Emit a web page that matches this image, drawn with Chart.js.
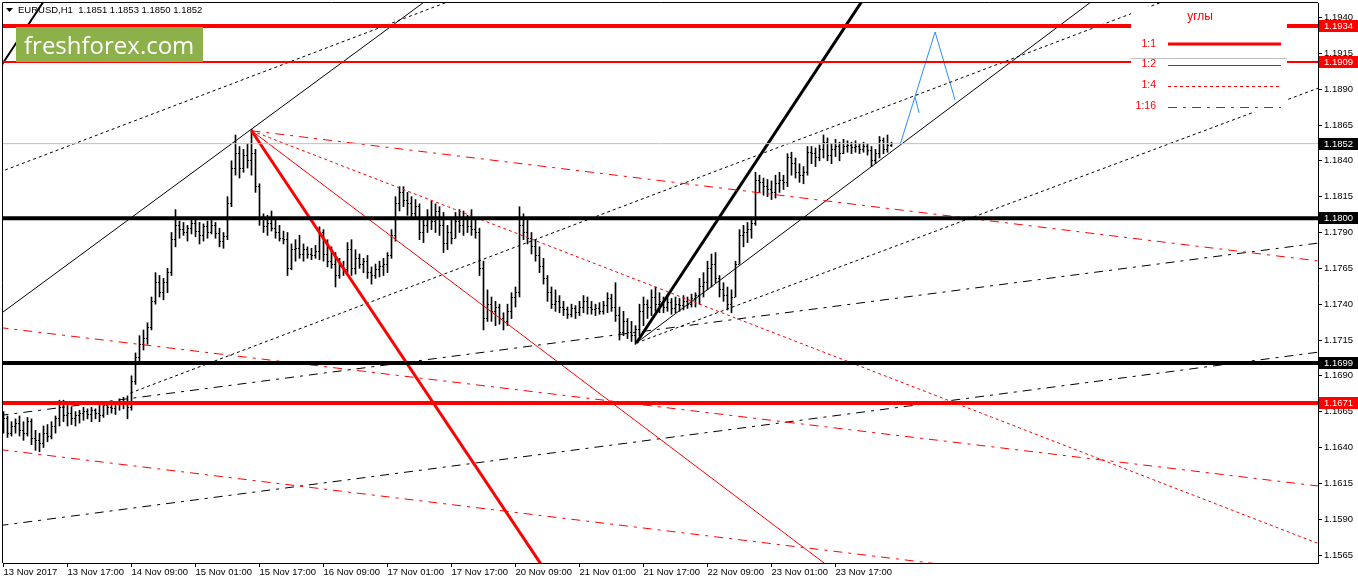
<!DOCTYPE html>
<html>
<head>
<meta charset="utf-8">
<title>EURUSD,H1</title>
<script src="https://cdn.jsdelivr.net/npm/chart.js@4.4.1/dist/chart.umd.min.js"></script>
<style>
  html, body { margin: 0; padding: 0; background: #fff; }
  #wrap { width: 1358px; height: 584px; }
</style>
</head>
<body>
<div id="wrap"><canvas id="chart1" width="1358" height="584"></canvas></div>
<script>
// H1 bars, index 0 = 13 Nov 2017 01:00
const opens = [
  1.1658,1.1660,1.1650,1.1655,1.1657,1.1652,1.1650,1.1658,1.1646,1.1645,
  1.1643,1.1650,1.1648,1.1655,1.1660,1.1668,1.1662,1.1664,1.1660,1.1662,
  1.1664,1.1665,1.1663,1.1666,1.1664,1.1662,1.1669,1.1668,1.1667,1.1670,
  1.1672,1.1670,1.1668,1.1686,1.1703,1.1712,1.1716,1.1724,1.1742,1.1755,
  1.1748,1.1755,1.1762,1.1785,1.1795,1.1792,1.1790,1.1793,1.1796,1.1791,
  1.1788,1.1794,1.1790,1.1795,1.1789,1.1784,1.1787,1.1810,1.1835,1.1845,
  1.1835,1.1844,1.1840,1.1845,1.1822,1.1800,1.1794,1.1796,1.1793,1.1790,
  1.1786,1.1785,1.1765,1.1778,1.1779,1.1775,1.1778,1.1775,1.1774,1.1777,
  1.1790,1.1775,1.1770,1.1768,1.1760,1.1766,1.1764,1.1778,1.1765,1.1772,
  1.1768,1.1770,1.1762,1.1760,1.1764,1.1766,1.1768,1.1774,1.1788,1.1810,
  1.1818,1.1812,1.1810,1.1803,1.1808,1.1790,1.1795,1.1800,1.1798,1.1805,
  1.1795,1.1782,1.1790,1.1786,1.1798,1.1795,1.1800,1.1794,1.1792,1.1790,
  1.1765,1.1730,1.1740,1.1735,1.1738,1.1730,1.1728,1.1735,1.1745,1.1748,
  1.1795,1.1790,1.1786,1.1780,1.1774,1.1766,1.1758,1.1748,1.1740,1.1742,
  1.1738,1.1736,1.1733,1.1737,1.1734,1.1738,1.1742,1.1738,1.1736,1.1737,
  1.1735,1.1739,1.1744,1.1738,1.1732,1.1720,1.1728,1.1720,1.1718,1.1722,
  1.1735,1.1740,1.1738,1.1745,1.1740,1.1742,1.1738,1.1741,1.1737,1.1740,
  1.1739,1.1742,1.1740,1.1744,1.1746,1.1752,1.1755,1.1765,1.1768,1.1758,
  1.1750,1.1746,1.1740,1.1745,1.1768,1.1788,1.1790,1.1792,1.1796,1.1826,
  1.1825,1.1822,1.1820,1.1818,1.1824,1.1826,1.1825,1.1842,1.1838,1.1832,
  1.1830,1.1832,1.1846,1.1845,1.1842,1.1848,1.1853,1.1844,1.1848,1.1850,
  1.1845,1.1850,1.1851,1.1849,1.1850,1.1848,1.1850,1.1847,1.1840,1.1845,
  1.1854,1.1848,1.1851
];
const highs = [
  1.1665,1.1662,1.1658,1.1660,1.1662,1.1658,1.1661,1.1660,1.1652,1.1650,
  1.1655,1.1656,1.1658,1.1662,1.1673,1.1673,1.1670,1.1668,1.1665,1.1666,
  1.1668,1.1667,1.1668,1.1667,1.1670,1.1672,1.1671,1.1670,1.1672,1.1674,
  1.1675,1.1676,1.1690,1.1706,1.1718,1.1722,1.1727,1.1745,1.1762,1.1760,
  1.1758,1.1765,1.1790,1.1806,1.1798,1.1797,1.1795,1.1800,1.1799,1.1797,
  1.1796,1.1798,1.1799,1.1797,1.1793,1.1790,1.1815,1.1840,1.1858,1.1850,
  1.1848,1.1852,1.1862,1.1848,1.1824,1.1803,1.1802,1.1805,1.1800,1.1795,
  1.1791,1.1790,1.1782,1.1785,1.1788,1.1782,1.1780,1.1779,1.1781,1.1794,
  1.1792,1.1785,1.1780,1.1776,1.1772,1.1770,1.1783,1.1785,1.1778,1.1775,
  1.1772,1.1774,1.1766,1.1768,1.1770,1.1772,1.1776,1.1792,1.1815,1.1822,
  1.1822,1.1818,1.1815,1.1813,1.1810,1.1800,1.1806,1.1812,1.1810,1.1808,
  1.1804,1.1795,1.1800,1.1804,1.1806,1.1805,1.1802,1.1806,1.1800,1.1793,
  1.1770,1.1750,1.1745,1.1742,1.1740,1.1734,1.1740,1.1748,1.1752,1.1808,
  1.1803,1.1800,1.1790,1.1785,1.1780,1.1772,1.1760,1.1752,1.1750,1.1746,
  1.1742,1.1738,1.1740,1.1739,1.1742,1.1746,1.1745,1.1742,1.1740,1.1741,
  1.1742,1.1748,1.1747,1.1755,1.1738,1.1735,1.1730,1.1728,1.1725,1.1740,
  1.1745,1.1743,1.1750,1.1752,1.1748,1.1745,1.1746,1.1744,1.1745,1.1744,
  1.1746,1.1745,1.1747,1.1748,1.1758,1.1762,1.1770,1.1775,1.1776,1.1760,
  1.1755,1.1752,1.1750,1.1770,1.1792,1.1795,1.1797,1.1800,1.1832,1.1830,
  1.1828,1.1827,1.1826,1.1830,1.1832,1.1830,1.1845,1.1846,1.1842,1.1838,
  1.1836,1.1850,1.1850,1.1849,1.1851,1.1858,1.1856,1.1852,1.1855,1.1853,
  1.1855,1.1854,1.1853,1.1854,1.1852,1.1853,1.1852,1.1850,1.1848,1.1857,
  1.1856,1.1858,1.1853
];
const lows = [
  1.1650,1.1647,1.1648,1.1650,1.1648,1.1645,1.1648,1.1642,1.1638,1.1637,
  1.1640,1.1644,1.1646,1.1650,1.1655,1.1658,1.1655,1.1656,1.1655,1.1657,
  1.1659,1.1660,1.1658,1.1660,1.1658,1.1661,1.1663,1.1664,1.1663,1.1666,
  1.1667,1.1660,1.1666,1.1684,1.1700,1.1708,1.1712,1.1722,1.1740,1.1745,
  1.1743,1.1748,1.1760,1.1780,1.1786,1.1788,1.1784,1.1789,1.1787,1.1782,
  1.1784,1.1786,1.1789,1.1786,1.1780,1.1779,1.1785,1.1808,1.1830,1.1828,
  1.1832,1.1835,1.1830,1.1818,1.1795,1.1790,1.1788,1.1791,1.1786,1.1784,
  1.1782,1.1760,1.1764,1.1770,1.1772,1.1770,1.1772,1.1771,1.1772,1.1771,
  1.1770,1.1766,1.1765,1.1752,1.1758,1.1760,1.1762,1.1760,1.1761,1.1765,
  1.1762,1.1758,1.1754,1.1758,1.1759,1.1760,1.1762,1.1772,1.1784,1.1805,
  1.1808,1.1802,1.1800,1.1800,1.1785,1.1783,1.1790,1.1792,1.1790,1.1788,
  1.1776,1.1778,1.1782,1.1786,1.1790,1.1788,1.1790,1.1788,1.1786,1.1760,
  1.1722,1.1728,1.1728,1.1725,1.1726,1.1722,1.1725,1.1730,1.1738,1.1745,
  1.1785,1.1782,1.1775,1.1770,1.1762,1.1754,1.1742,1.1737,1.1735,1.1734,
  1.1732,1.1730,1.1731,1.1730,1.1732,1.1734,1.1733,1.1733,1.1732,1.1733,
  1.1733,1.1734,1.1735,1.1728,1.1715,1.1718,1.1716,1.1714,1.1712,1.1718,
  1.1725,1.1730,1.1732,1.1735,1.1734,1.1734,1.1735,1.1733,1.1734,1.1735,
  1.1736,1.1737,1.1738,1.1738,1.1740,1.1745,1.1750,1.1752,1.1755,1.1745,
  1.1742,1.1736,1.1734,1.1745,1.1768,1.1780,1.1783,1.1786,1.1795,1.1818,
  1.1816,1.1815,1.1813,1.1814,1.1818,1.1820,1.1822,1.1830,1.1828,1.1825,
  1.1824,1.1830,1.1838,1.1836,1.1840,1.1842,1.1840,1.1838,1.1843,1.1840,
  1.1845,1.1846,1.1845,1.1846,1.1845,1.1846,1.1844,1.1836,1.1838,1.1842,
  1.1845,1.1846,1.1850
];
const closes = [
  1.1660,1.1650,1.1655,1.1657,1.1652,1.1650,1.1658,1.1646,1.1645,1.1643,
  1.1650,1.1648,1.1655,1.1660,1.1668,1.1662,1.1664,1.1660,1.1662,1.1664,
  1.1665,1.1663,1.1666,1.1664,1.1662,1.1669,1.1668,1.1667,1.1670,1.1672,
  1.1670,1.1668,1.1686,1.1703,1.1712,1.1716,1.1724,1.1742,1.1755,1.1748,
  1.1755,1.1762,1.1785,1.1795,1.1792,1.1790,1.1793,1.1796,1.1791,1.1788,
  1.1794,1.1790,1.1795,1.1789,1.1784,1.1787,1.1810,1.1835,1.1845,1.1835,
  1.1844,1.1840,1.1845,1.1822,1.1800,1.1794,1.1796,1.1793,1.1790,1.1786,
  1.1785,1.1765,1.1778,1.1779,1.1775,1.1778,1.1775,1.1774,1.1777,1.1790,
  1.1775,1.1770,1.1768,1.1760,1.1766,1.1764,1.1778,1.1765,1.1772,1.1768,
  1.1770,1.1762,1.1760,1.1764,1.1766,1.1768,1.1774,1.1788,1.1810,1.1818,
  1.1812,1.1810,1.1803,1.1808,1.1790,1.1795,1.1800,1.1798,1.1805,1.1795,
  1.1782,1.1790,1.1786,1.1798,1.1795,1.1800,1.1794,1.1792,1.1790,1.1765,
  1.1730,1.1740,1.1735,1.1738,1.1730,1.1728,1.1735,1.1745,1.1748,1.1795,
  1.1790,1.1786,1.1780,1.1774,1.1766,1.1758,1.1748,1.1740,1.1742,1.1738,
  1.1736,1.1733,1.1737,1.1734,1.1738,1.1742,1.1738,1.1736,1.1737,1.1735,
  1.1739,1.1744,1.1738,1.1732,1.1720,1.1728,1.1720,1.1718,1.1722,1.1735,
  1.1740,1.1738,1.1745,1.1740,1.1742,1.1738,1.1741,1.1737,1.1740,1.1739,
  1.1742,1.1740,1.1744,1.1746,1.1752,1.1755,1.1765,1.1768,1.1758,1.1750,
  1.1746,1.1740,1.1745,1.1768,1.1788,1.1790,1.1792,1.1796,1.1826,1.1825,
  1.1822,1.1820,1.1818,1.1824,1.1826,1.1825,1.1842,1.1838,1.1832,1.1830,
  1.1832,1.1846,1.1845,1.1842,1.1848,1.1853,1.1844,1.1848,1.1850,1.1845,
  1.1850,1.1851,1.1849,1.1850,1.1848,1.1850,1.1847,1.1840,1.1845,1.1854,
  1.1848,1.1851,1.1852
];

// оси
const xTickIdx = [0, 16, 32, 48, 64, 80, 96, 112, 128, 144, 160, 176, 192, 208];
const xTickLabels = ['13 Nov 2017', '13 Nov 17:00', '14 Nov 09:00', '15 Nov 01:00', '15 Nov 17:00',
  '16 Nov 09:00', '17 Nov 01:00', '17 Nov 17:00', '20 Nov 09:00', '21 Nov 01:00', '21 Nov 17:00',
  '22 Nov 09:00', '23 Nov 01:00', '23 Nov 17:00'];
const yTickValues = [1.1565, 1.1590, 1.1615, 1.1640, 1.1665, 1.1690, 1.1715, 1.1740,
  1.1765, 1.1790, 1.1815, 1.1840, 1.1865, 1.1890, 1.1915, 1.1940];

// горизонтальные уровни
const redLevelsThick = [1.1934, 1.1671];
const redLevelsThin = [1.1909];
const blackLevels = [1.1800, 1.1699];
const bidLevel = 1.1852;
const priceTagsRed = [1.1934, 1.1909, 1.1671];
const priceTagsBlack = [1.1852, 1.1800, 1.1699];

// трендовые линии: [индекс бара, цена]
const redFan1x1 = [[62, 1.1861], [140, 1.15351]];
const redFan1x2 = [[62, 1.1861], [210, 1.15492]];
const redFan1x4 = [[62, 1.1861], [335, 1.15662]];
const redFan1x16 = [[62, 1.1861], [335, 1.17680]];
const redDashDotMid = [[-1, 1.17237], [330, 1.16127]];
const redDashDotLow = [[-1, 1.16386], [250, 1.15532]];
const blackFan1x1 = [[158.2, 1.17129], [225, 1.19953]];
const blackTopLeft1x1 = [[-1, 1.19046], [20, 1.19934]];
const blackChannelLow = [[158.2, 1.17129], [275, 1.19574]];
const blackChannelHigh = [[-1, 1.17327], [115, 1.19710]];
const blackDotTop = [[-1, 1.18321], [120, 1.19604]];
const blackDotMid = [[31.7, 1.1678], [300, 1.19618]];
const blackDotPivot = [[158.2, 1.17129], [332, 1.18942]];
const blackDashDotUp = [[-1, 1.16623], [330, 1.17831]];
const blackDashDotLow = [[-1, 1.15855], [330, 1.17070]];
const blueProjection = [[224.2, 1.18517], [232.9, 1.19299], [237.9, 1.18824]];
const blueTail = [[227.9, 1.18845], [228.9, 1.18734]];

const RED = '#ff0000';
const DOT = [3, 3];
const DASHDOT = [9, 6, 3, 6];
const FONT = 'Liberation Sans, Arial, sans-serif';

const seg = (pts, color, width, dash) => ({
    type: 'line',
    data: pts.map(p => ({ x: p[0], y: p[1] })),
    borderColor: color,
    borderWidth: width,
    borderDash: dash || [],
    pointRadius: 0,
    fill: false,
    tension: 0,
    order: 1
});
const level = (v, color, width) => seg([[-1, v], [335, v]], color, width);

const datasets = [{
    type: 'bar',
    data: highs.map((h, i) => ({ x: i, y: [lows[i], h] })),
    backgroundColor: '#000',
    borderWidth: 0,
    barThickness: 1,
    grouped: false,
    order: 2
}];
datasets.push(level(bidLevel, '#c0c0c0', 1));
redLevelsThick.forEach(v => datasets.push(level(v, RED, 4)));
redLevelsThin.forEach(v => datasets.push(level(v, RED, 2)));
blackLevels.forEach(v => datasets.push(level(v, '#000', 4)));
datasets.push(
    seg(redFan1x1, RED, 3),
    seg(redFan1x2, RED, 1),
    seg(redFan1x4, RED, 1, DOT),
    seg(redFan1x16, RED, 1, DASHDOT),
    seg(redDashDotMid, RED, 1, DASHDOT),
    seg(redDashDotLow, RED, 1, DASHDOT),
    seg(blackFan1x1, '#000', 3),
    seg(blackTopLeft1x1, '#000', 2),
    seg(blackChannelLow, '#000', 1),
    seg(blackChannelHigh, '#000', 1),
    seg(blackDotTop, '#000', 1, DOT),
    seg(blackDotMid, '#000', 1, DOT),
    seg(blackDotPivot, '#000', 1, DOT),
    seg(blackDashDotUp, '#000', 1, DASHDOT),
    seg(blackDashDotLow, '#000', 1, DASHDOT),
    seg(blueProjection, '#2a8cff', 1),
    seg(blueTail, '#2a8cff', 1)
);

// засечки open/close у баров
const ohlcTicks = {
    id: 'ohlcTicks',
    afterDatasetDraw(chart, args) {
        if (args.index !== 0) return;
        const { ctx, scales: { x, y } } = chart;
        ctx.save();
        ctx.fillStyle = '#000';
        highs.forEach((h, i) => {
            const px = Math.round(x.getPixelForValue(i) - 0.5);
            ctx.fillRect(px - 1, Math.round(y.getPixelForValue(opens[i]) - 0.5), 1, 1);
            ctx.fillRect(px + 1, Math.round(y.getPixelForValue(closes[i]) - 0.5), 1, 1);
        });
        ctx.restore();
    }
};

// легенда "углы"
const anglesBox = {
    id: 'anglesBox',
    afterDatasetsDraw(chart) {
        const ctx = chart.ctx;
        ctx.save();
        ctx.fillStyle = '#fff';
        ctx.fillRect(1131, 7, 156, 105);
        ctx.strokeStyle = '#c0c0c0';
        ctx.lineWidth = 1;
        ctx.beginPath();
        ctx.moveTo(1131, 58.5);
        ctx.lineTo(1287, 58.5);
        ctx.stroke();
        ctx.fillStyle = RED;
        ctx.textBaseline = 'middle';
        ctx.textAlign = 'center';
        ctx.font = '12px ' + FONT;
        ctx.fillText('углы', 1200, 17);
        ctx.font = '10.5px ' + FONT;
        ctx.textAlign = 'right';
        const rows = [['1:1', 44, 3, []], ['1:2', 64, 1, []], ['1:4', 85, 1, DOT], ['1:16', 106, 1, DASHDOT]];
        rows.forEach(r => {
            ctx.fillStyle = RED;
            ctx.fillText(r[0], 1156, r[1]);
            ctx.strokeStyle = RED;
            ctx.lineWidth = r[2];
            ctx.setLineDash(r[3]);
            ctx.beginPath();
            const ly = r[2] === 1 ? r[1] + 1.5 : r[1];
            ctx.moveTo(1168, ly);
            ctx.lineTo(1281, ly);
            ctx.stroke();
        });
        ctx.restore();
    }
};

// рамка, заголовок, логотип, метки цен
const overlay = {
    id: 'overlay',
    afterDraw(chart) {
        const { ctx, chartArea: a, scales: { y } } = chart;
        ctx.save();
        ctx.strokeStyle = '#000';
        ctx.lineWidth = 1;
        ctx.beginPath();
        ctx.moveTo(a.left - 0.5, a.bottom);
        ctx.lineTo(a.left - 0.5, a.top - 0.5);
        ctx.lineTo(a.right, a.top - 0.5);
        ctx.stroke();

        ctx.fillStyle = '#000';
        ctx.beginPath();
        ctx.moveTo(6, 8);
        ctx.lineTo(13, 8);
        ctx.lineTo(9.5, 12);
        ctx.closePath();
        ctx.fill();
        const last = highs.length - 1;
        ctx.font = '9.5px ' + FONT;
        ctx.textBaseline = 'middle';
        ctx.textAlign = 'left';
        ctx.fillText('EURUSD,H1  ' + [opens[last], highs[last], lows[last], closes[last]].map(v => v.toFixed(4)).join(' '), 18, 10.5);

        ctx.fillStyle = '#8cb04a';
        ctx.fillRect(16, 27, 187, 35);
        ctx.fillStyle = '#fff';
        ctx.font = '24px "Open Sans", sans-serif';
        ctx.textBaseline = 'alphabetic';
        ctx.fillText('freshforex.com', 24, 53.5);

        ctx.font = '9.5px ' + FONT;
        ctx.textBaseline = 'middle';
        const tag = (v, bg) => {
            const py = Math.round(y.getPixelForValue(v));
            ctx.fillStyle = bg;
            ctx.fillRect(a.right + 1, py - 6, 39, 12);
            ctx.fillStyle = '#fff';
            ctx.fillText(v.toFixed(4), a.right + 6, py + 0.5);
        };
        priceTagsRed.forEach(v => tag(v, RED));
        priceTagsBlack.forEach(v => tag(v, '#000'));
        ctx.restore();
    }
};

const ctx = document.getElementById('chart1').getContext('2d');
const chart = new Chart(ctx, {
    type: 'bar',
    data: { datasets },
    options: {
        responsive: false,
        devicePixelRatio: 1,
        animation: false,
        layout: { padding: { left: 3, top: 3, right: 0, bottom: 0 } },
        plugins: { legend: { display: false }, tooltip: { enabled: false } },
        scales: {
            x: {
                type: 'linear',
                offset: false,
                min: -0.125,
                max: 328.625,
                afterBuildTicks: s => { s.ticks = xTickIdx.map(v => ({ value: v })); },
                afterFit: s => { s.height = 21; s.paddingLeft = 0; s.paddingRight = 0; },
                grid: { drawOnChartArea: false, tickLength: 4, color: '#000', offset: false },
                border: { color: '#000' },
                ticks: {
                    autoSkip: false,
                    maxRotation: 0,
                    align: 'start',
                    padding: 0,
                    color: '#000',
                    font: { family: FONT, size: 9.5 },
                    callback: (v, i) => xTickLabels[i]
                }
            },
            y: {
                type: 'linear',
                position: 'right',
                min: 1.155942,
                max: 1.195012,
                afterBuildTicks: s => { s.ticks = yTickValues.map(v => ({ value: v })); },
                afterFit: s => { s.width = 40; s.paddingTop = 0; s.paddingBottom = 0; },
                grid: { drawOnChartArea: false, tickLength: 4, color: '#000' },
                border: { color: '#000' },
                ticks: {
                    autoSkip: false,
                    padding: 2,
                    color: '#000',
                    font: { family: FONT, size: 9.5 },
                    callback: v => v.toFixed(4)
                }
            }
        }
    },
    plugins: [ohlcTicks, anglesBox, overlay]
});
</script>
</body>
</html>
